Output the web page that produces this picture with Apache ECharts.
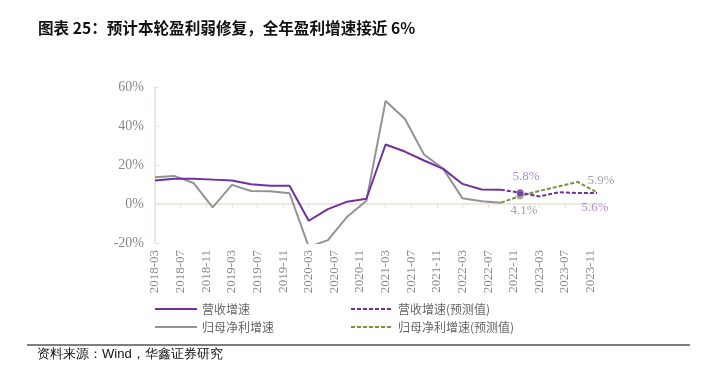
<!DOCTYPE html>
<html><head><meta charset="utf-8">
<script src="https://cdn.jsdelivr.net/npm/echarts@6/dist/echarts.min.js"></script>
<style>html,body{margin:0;padding:0;background:#fff}#c{width:710px;height:373px}</style>
</head><body><div id="c"></div>
<script>
// ---- data ----
const titleText = '图表 25：预计本轮盈利弱修复，全年盈利增速接近 6%';
const sourceText = '资料来源：Wind，华鑫证券研究';
const seriesNames = ['营收增速', '归母净利增速', '营收增速(预测值)', '归母净利增速(预测值)'];
const yTicks = [-20, 0, 20, 40, 60];
const actualDates = ['2018-03','2018-06','2018-09','2018-12','2019-03','2019-06','2019-09','2019-12',
  '2020-03','2020-06','2020-09','2020-12','2021-03','2021-06','2021-09','2021-12','2022-03','2022-06','2022-09'];
const revenue = [12.0, 13.0, 12.9, 12.5, 12.0, 10.1, 9.4, 9.4, -8.6, -2.6, 1.2, 2.7, 30.5, 26.9, 22.3, 18.0, 10.3, 7.4, 7.3];
const profit  = [13.7, 14.4, 10.8, -1.7, 9.8, 6.7, 6.5, 5.5, -22.0, -18.5, -6.5, 1.7, 52.8, 43.7, 25.4, 18.0, 2.9, 1.4, 0.7];
const forecastDates = ['2022-09','2022-12','2023-03','2023-06','2023-09','2023-12'];
const revenueF = [7.3, 5.8, 3.9, 6.0, 5.6, 5.6];
const profitF  = [0.7, 4.1, 6.7, 9.0, 11.3, 5.9];
const annualDates = ['2022-12', '2023-12'];
const revenueAnnual = [5.8, 5.6];
const profitAnnual = [4.1, 5.9];
const axisStart = [2018, 3], axisEnd = [2023, 12];

// month categories for the axis
const months = [];
for (let y = axisStart[0], m = axisStart[1]; y < axisEnd[0] || (y === axisEnd[0] && m <= axisEnd[1]); ) {
  months.push(y + '-' + String(m).padStart(2, '0'));
  m++; if (m > 12) { m = 1; y++; }
}
const pair = (d, v) => d.map((x, i) => [x, v[i]]);

const purple = '#7030a0', grey = '#939393', green = '#77933c';
const labelPurple = '#9a6ccf', labelGrey = '#8c8c8c';
const axisCol = '#e6e1d2';
const serif = '"Liberation Serif","DejaVu Serif",serif';
const cjk = '"Noto Sans CJK SC","Noto Sans",sans-serif';

const chart = echarts.init(document.getElementById('c'));
const legendBase = (name, left, top) => ({
  data: [name], left: left, top: top, itemWidth: 42, itemHeight: 14, padding: 0,
  itemStyle: { opacity: 0 },
  textStyle: { fontSize: 12, color: '#666', fontFamily: cjk }, selectedMode: false
});
chart.setOption({
  animation: false,
  title: { text: titleText, left: 38, top: 20, padding: 0,
    textStyle: { fontSize: 15.6, fontWeight: 'bold', color: '#111', fontFamily: cjk } },
  grid: { left: 155, right: 113, top: 87, bottom: 130 },
  legend: [
    legendBase(seriesNames[0], 154, 303),
    legendBase(seriesNames[1], 154, 321),
    legendBase(seriesNames[2], 350, 303),
    legendBase(seriesNames[3], 350, 321)
  ],
  xAxis: [
    { type: 'category', data: months, boundaryGap: false, position: 'bottom',
      axisLine: { show: false, onZero: false }, axisTick: { show: false },
      axisLabel: { interval: 3, rotate: 90, margin: 7, fontSize: 13, color: '#8a8a8a', fontFamily: serif } },
    { type: 'category', data: months, boundaryGap: false, position: 'bottom',
      axisLine: { show: true, onZero: true, lineStyle: { color: axisCol, width: 1.5 } },
      axisTick: { show: true, interval: 3, length: 4, lineStyle: { color: axisCol } },
      axisLabel: { show: false } }
  ],
  yAxis: {
    type: 'value', min: yTicks[0], max: yTicks[yTicks.length - 1], interval: 20,
    splitLine: { show: false },
    axisLine: { show: true, lineStyle: { color: axisCol, width: 1.5 } },
    axisTick: { show: true, inside: true, length: 4, lineStyle: { color: axisCol } },
    axisLabel: { formatter: '{value}%', fontSize: 14, color: '#8a8a8a', fontFamily: serif, margin: 11 }
  },
  series: [
    { name: seriesNames[0], type: 'line', data: pair(actualDates, revenue), symbol: 'none',
      lineStyle: { color: purple, width: 2 }, itemStyle: { color: purple }, z: 4 },
    { name: seriesNames[1], type: 'line', data: pair(actualDates, profit), symbol: 'none',
      lineStyle: { color: grey, width: 2 }, itemStyle: { color: grey }, z: 3 },
    { name: seriesNames[2], type: 'line', data: pair(forecastDates, revenueF), symbol: 'none',
      lineStyle: { color: purple, width: 2, type: [4, 2] }, itemStyle: { color: purple }, z: 4 },
    { name: seriesNames[3], type: 'line', data: pair(forecastDates, profitF), symbol: 'none',
      lineStyle: { color: green, width: 2, type: [4, 2] }, itemStyle: { color: green }, z: 3 },
    { type: 'scatter', z: 6,
      data: [
        { value: [annualDates[0], revenueAnnual[0]], symbolSize: 7, itemStyle: { color: purple },
          label: { position: 'top', distance: 6, offset: [6, 0] } },
        { value: [annualDates[1], revenueAnnual[1]], symbolSize: 0,
          label: { position: 'bottom', distance: 8, offset: [-2, 0] } }
      ],
      label: { show: true, color: labelPurple, fontSize: 13, fontFamily: serif,
        formatter: p => p.value[1].toFixed(1) + '%' } },
    { type: 'scatter', z: 5,
      data: [
        { value: [annualDates[0], profitAnnual[0]], symbolSize: 7, itemStyle: { color: grey },
          label: { position: 'bottom', distance: 5, offset: [4, 0] } },
        { value: [annualDates[1], profitAnnual[1]], symbolSize: 0,
          label: { position: 'top', distance: 5, offset: [4, 0] } }
      ],
      label: { show: true, color: labelGrey, fontSize: 13, fontFamily: serif,
        formatter: p => p.value[1].toFixed(1) + '%' } }
  ],
  graphic: [
    { type: 'line', shape: { x1: 27, y1: 345, x2: 690, y2: 345 }, style: { stroke: '#555', lineWidth: 1.5 } },
    { type: 'text', left: 37, top: 348, style: { text: sourceText, fontSize: 13, fill: '#111', font: '13px ' + cjk } }
  ]
});
</script></body></html>
